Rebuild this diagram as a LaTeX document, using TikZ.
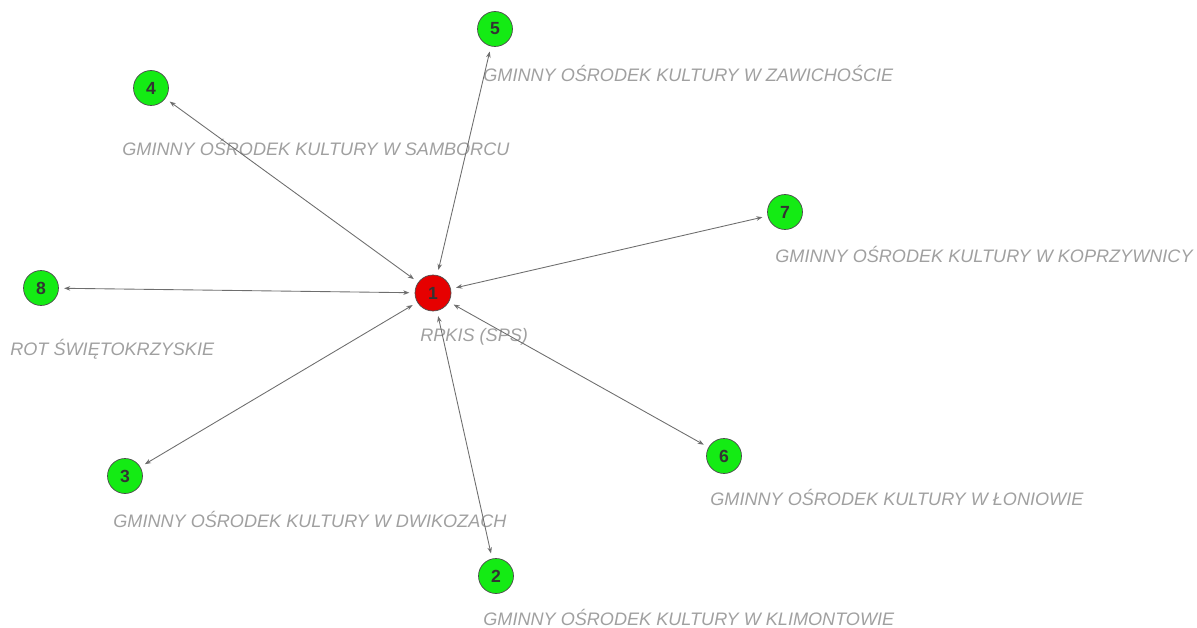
\documentclass[tikz,border=0pt]{standalone}
\usepackage{fontspec}
\setmainfont{Liberation Sans}
\usepackage{xcolor}
\usetikzlibrary{positioning,arrows.meta}

\definecolor{hubred}{RGB}{230,0,0}
\definecolor{sitegreen}{RGB}{20,235,20}
\definecolor{edgegray}{RGB}{110,110,110}
\definecolor{namegray}{RGB}{160,160,160}

\begin{document}
\begin{tikzpicture}[x=0.02cm, y=-0.02cm,
    hub/.style={draw=black!70, fill=hubred, circle, minimum size=0.72cm, inner sep=0pt, text=black!80, font=\fontsize{10}{12}\selectfont\bfseries},
    site/.style={draw=black!70, fill=sitegreen, circle, minimum size=0.70cm, inner sep=0pt, text=black!80, font=\fontsize{10}{12}\selectfont\bfseries},
    sitename/.style={anchor=west, inner sep=0pt, text=namegray, font=\fontsize{10.3}{12}\selectfont\itshape},
    link/.style={edgegray, line width=0.5pt, {Stealth[length=3.5pt,width=2.6pt]}-{Stealth[length=3.5pt,width=2.6pt]}, shorten <=3pt, shorten >=3pt}]
\useasboundingbox (0,0) rectangle (1197,628);

\node[hub] (n1) at (433,293) {1};
\node[site] (n2) at (496,576) {2};
\node[site] (n3) at (125,476) {3};
\node[site] (n4) at (151,88) {4};
\node[site] (n5) at (495,29) {5};
\node[site] (n6) at (724,456) {6};
\node[site] (n7) at (785,212) {7};
\node[site] (n8) at (41,288) {8};

\node[sitename] (name1) at (420,337) {RPKIS (SPS)};
\node[sitename] (name2) at (483,617) {GMINNY OŚRODEK KULTURY W KLIMONTOWIE};
\node[sitename] (name3) at (113,519) {GMINNY OŚRODEK KULTURY W DWIKOZACH};
\node[sitename] (name4) at (122,147) {GMINNY OŚRODEK KULTURY W SAMBORCU};
\node[sitename] (name5) at (483,73) {GMINNY OŚRODEK KULTURY W ZAWICHOŚCIE};
\node[sitename] (name6) at (710,497) {GMINNY OŚRODEK KULTURY W ŁONIOWIE};
\node[sitename] (name7) at (775,254) {GMINNY OŚRODEK KULTURY W KOPRZYWNICY};
\node[sitename] (name8) at (10,349) {ROT ŚWIĘTOKRZYSKIE};

\foreach \k in {2,...,8}
    \draw[link] (n1) -- (n\k);

\end{tikzpicture}
\end{document}
